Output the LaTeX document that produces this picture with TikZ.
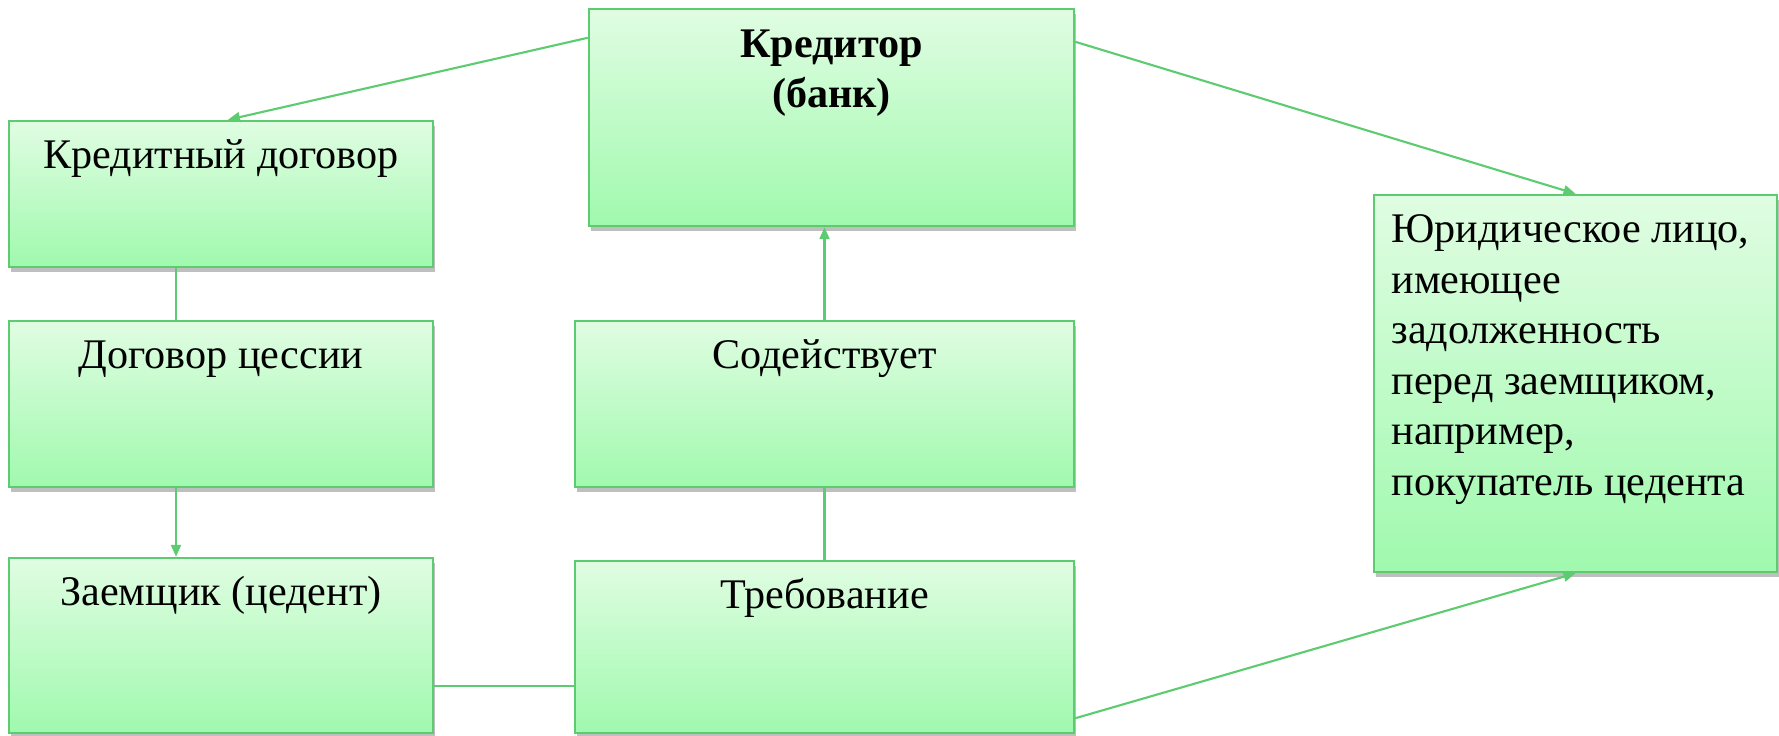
\documentclass[tikz,border=0pt]{standalone}
\usepackage{fontspec}
\setmainfont{Liberation Serif}
\usepackage{tikz}
\usetikzlibrary{arrows.meta,shadows,positioning}

\definecolor{kgtop}{RGB}{224,253,226}
\definecolor{kgbot}{RGB}{160,249,174}
\definecolor{kgline}{RGB}{93,203,111}

\begin{document}
\begin{tikzpicture}
			[
				font=\fontsize{12pt}{14.4pt}\selectfont,
				box/.style={draw=kgline, line width=0.7pt, top color=kgtop, bottom color=kgbot,
					inner sep=0pt, drop shadow={shadow xshift=0.02cm, shadow yshift=-0.045cm, fill=black, opacity=0.25}},
				txt/.style={inner sep=0pt},
				arrow/.style={-{Triangle[length=0.12cm,width=0.1cm]}, draw=kgline, line width=0.6pt},
				link/.style={draw=kgline, line width=0.6pt}
			]

			\useasboundingbox (0,0) rectangle (17.79,-7.35);

			% boxes
			\node[box, minimum width=4.24cm, minimum height=1.46cm] (kd) at (  2.21, -1.94  ) {};
			\node[box, minimum width=4.24cm, minimum height=1.66cm] (dc) at (  2.21, -4.04  ) {};
			\node[box, minimum width=4.24cm, minimum height=1.75cm] (zm) at (  2.21, -6.455 ) {};
			\node[box, minimum width=4.85cm, minimum height=2.17cm] (kr) at (  8.315, -1.175 ) {};
			\node[box, minimum width=4.99cm, minimum height=1.66cm] (sd) at (  8.245, -4.04  ) {};
			\node[box, minimum width=4.99cm, minimum height=1.72cm] (tr) at (  8.245, -6.47  ) {};
			\node[box, minimum width=4.03cm, minimum height=3.77cm] (ul) at ( 15.755, -3.835 ) {};

			% texts
			\node[txt, anchor=base] (kdt) at ([yshift=-0.49cm]kd.north) {Кредитный договор};
			\node[txt, anchor=base] (dct) at ([yshift=-0.49cm]dc.north) {Договор цессии};
			\node[txt, anchor=base] (zmt) at ([yshift=-0.49cm]zm.north) {Заемщик (цедент)};
			\node[txt, anchor=base] (sdt) at ([yshift=-0.49cm]sd.north) {Содействует};
			\node[txt, anchor=base] (trt) at ([yshift=-0.49cm]tr.north) {Требование};
			\node[txt, anchor=north, align=center, font=\fontsize{12pt}{14.4pt}\selectfont\bfseries] (krt)
				at ([yshift=-0.21cm]kr.north) {Кредитор\\(банк)};
			\node[txt, anchor=north west, align=left] (ult) at ([xshift=0.18cm, yshift=-0.2cm]ul.north west)
				{Юридическое лицо,\\имеющее\\задолженность\\перед заемщиком,\\например,\\покупатель цедента};

			% connectors
			\draw[arrow] ([yshift=-0.3cm]kr.north west) -- ([xshift=0.07cm]kd.north);
			\draw[arrow] ([yshift=-0.34cm]kr.north east) -- (ul.north);
			\draw[arrow] ([yshift=0.16cm]tr.south east) -- (ul.south);
			\draw[arrow] ([xshift=-0.45cm]dc.south) -- ([xshift=-0.45cm]zm.north);
			\draw[arrow] (sd.north) -- (sd.north |- kr.south);

			\draw[link] ([xshift=-0.45cm]kd.south) -- ([xshift=-0.45cm]dc.north);
			\draw[link] (tr.north) -- (sd.south);
			\draw[link] ([yshift=-0.405cm]zm.east) -- ([yshift=-0.405cm]zm.east -| tr.west);

		\end{tikzpicture}
\end{document}
